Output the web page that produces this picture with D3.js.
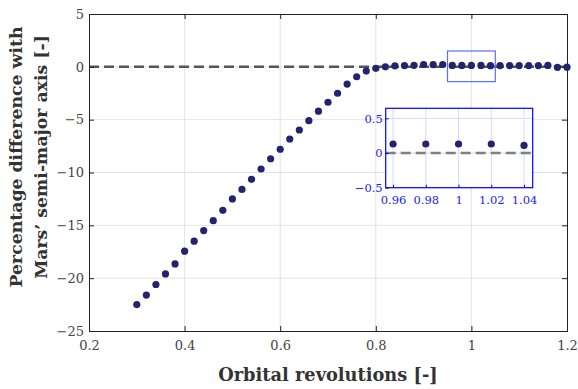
<!DOCTYPE html>
<html><head><meta charset="utf-8">
<script src="https://d3js.org/d3.v7.min.js"></script>
<style>body{margin:0;background:#fff}svg{display:block}</style>
</head><body>
<script>
const revolutions = [0.30,0.32,0.34,0.36,0.38,0.40,0.42,0.44,0.46,0.48,0.50,0.52,0.54,0.56,0.58,0.60,0.62,0.64,0.66,0.68,0.70,0.72,0.74,0.76,0.78,0.80,0.82,0.84,0.86,0.88,0.90,0.92,0.94,0.96,0.98,1.00,1.02,1.04,1.06,1.08,1.10,1.12,1.14,1.16,1.18,1.20];
const pctDiff = [-22.5,-21.6,-20.6,-19.6,-18.65,-17.45,-16.5,-15.5,-14.56,-13.58,-12.5,-11.6,-10.65,-9.67,-8.7,-7.8,-6.83,-5.98,-5.1,-4.2,-3.35,-2.5,-1.63,-0.94,-0.4,-0.14,0.0,0.1,0.12,0.14,0.22,0.2,0.22,0.13,0.13,0.13,0.13,0.11,0.12,0.12,0.12,0.12,0.12,0.13,-0.05,-0.03];
const xTicks = [0.2,0.4,0.6,0.8,1.0,1.2];
const yTicks = [5,0,-5,-10,-15,-20,-25];
const insetXTicks = [0.96,0.98,1.00,1.02,1.04];
const insetYTicks = [0.5,0,-0.5];
const zoomBox = {x0:0.95, x1:1.05, y0:-1.4, y1:1.5};

const W=578,H=389;
const svg=d3.select("body").append("svg").attr("width",W).attr("height",H);
const x=d3.scaleLinear().domain([0.2,1.2]).range([89,567]);
const y=d3.scaleLinear().domain([-25,5]).range([331,14]);
const font="DejaVu Serif";
const dotColor="#23236e";

// grid
const g=svg.append("g");
g.selectAll(".gx").data(xTicks.slice(1,-1)).join("line").attr("x1",d=>x(d)).attr("x2",d=>x(d)).attr("y1",14).attr("y2",331).attr("stroke","#e3e3e3").attr("stroke-width",1);
g.selectAll(".gy").data(yTicks.slice(1,-1)).join("line").attr("y1",d=>y(d)).attr("y2",d=>y(d)).attr("x1",89).attr("x2",567).attr("stroke","#e3e3e3").attr("stroke-width",1);

// zero line
svg.append("line").attr("x1",89).attr("x2",567).attr("y1",y(0)).attr("y2",y(0)).attr("stroke","#555").attr("stroke-width",2.5).attr("stroke-dasharray","10,5");

// axes
const xb=d3.axisBottom(x).tickValues(xTicks).tickSize(-5).tickFormat(d3.format("~g"));
const xt=d3.axisTop(x).tickValues(xTicks).tickSize(-5).tickFormat("");
const yl=d3.axisLeft(y).tickValues(yTicks).tickSize(-5).tickFormat(d3.format("~g"));
const yr=d3.axisRight(y).tickValues(yTicks).tickSize(-5).tickFormat("");
function style(sel,col){sel.select(".domain").attr("stroke",col).attr("stroke-width",1);sel.selectAll(".tick line").attr("stroke",col);sel.selectAll("text").attr("fill","#444").attr("font-family",font).attr("font-size",13);}
style(svg.append("g").attr("transform","translate(0,331)").call(xb).call(s=>s.selectAll("text").attr("dy","1.25em")),"#222");
style(svg.append("g").attr("transform","translate(0,14)").call(xt),"#222");
style(svg.append("g").attr("transform","translate(89,0)").call(yl).call(s=>s.selectAll("text").attr("x",-5)),"#222");
style(svg.append("g").attr("transform","translate(567,0)").call(yr),"#222");

// points
svg.append("g").selectAll("circle").data(revolutions).join("circle").attr("cx",d=>x(d)).attr("cy",(d,i)=>y(pctDiff[i])).attr("r",3.6).attr("fill",dotColor);

// zoom rectangle
svg.append("rect").attr("x",x(zoomBox.x0)).attr("y",y(zoomBox.y1)).attr("width",x(zoomBox.x1)-x(zoomBox.x0)).attr("height",y(zoomBox.y0)-y(zoomBox.y1)).attr("fill","none").attr("stroke","#5a6cff").attr("stroke-width",1.2);

// inset
const ix=d3.scaleLinear().domain([0.9555,1.0453]).range([385.7,532.7]);
const iy=d3.scaleLinear().domain([-0.5,0.645]).range([187.7,108.3]);
const ig=svg.append("g");
ig.append("rect").attr("x",385.7).attr("y",108.3).attr("width",147).attr("height",79.4).attr("fill","#fff");
ig.selectAll(".igx").data(insetXTicks).join("line").attr("x1",d=>ix(d)).attr("x2",d=>ix(d)).attr("y1",108.3).attr("y2",187.7).attr("stroke","#d6d9ff");
ig.selectAll(".igy").data(insetYTicks).join("line").attr("y1",d=>iy(d)).attr("y2",d=>iy(d)).attr("x1",385.7).attr("x2",532.7).attr("stroke","#d6d9ff");
ig.append("line").attr("x1",385.7).attr("x2",532.7).attr("y1",iy(0)).attr("y2",iy(0)).attr("stroke","#808080").attr("stroke-width",2.5).attr("stroke-dasharray","10,5");
const insetIdx=revolutions.map((d,i)=>i).filter(i=>revolutions[i]>0.955&&revolutions[i]<1.045);
ig.selectAll("circle").data(insetIdx).join("circle").attr("cx",i=>ix(revolutions[i])).attr("cy",i=>iy(pctDiff[i])).attr("r",3.6).attr("fill",dotColor);
function istyle(sel){sel.select(".domain").attr("stroke","none");sel.selectAll(".tick line").attr("stroke","#0000ff");sel.selectAll("text").attr("fill","#2020ff").attr("font-family",font).attr("font-size",11.5);}
istyle(ig.append("g").attr("transform","translate(0,187.7)").call(d3.axisBottom(ix).tickValues(insetXTicks).tickSize(-3).tickFormat(d3.format("~g"))).call(s=>s.selectAll("text").attr("dy","1.2em")));
istyle(ig.append("g").attr("transform","translate(385.7,0)").call(d3.axisLeft(iy).tickValues(insetYTicks).tickSize(-3).tickFormat(d3.format("~g"))).call(s=>s.selectAll("text").attr("x",-3)));
ig.append("rect").attr("x",385.7).attr("y",108.3).attr("width",147).attr("height",79.4).attr("fill","none").attr("stroke","#0000ff").attr("stroke-width",1.2);

// labels
svg.append("text").attr("x",328).attr("y",381).attr("text-anchor","middle").attr("font-family",font).attr("font-weight","bold").attr("font-size",17.8).attr("fill","#333").text("Orbital revolutions [-]");
const yt=svg.append("text").attr("transform","translate(0,157) rotate(-90)").attr("text-anchor","middle").attr("font-family",font).attr("font-weight","bold").attr("font-size",17.3).attr("fill","#333");
yt.append("tspan").attr("x",0).attr("y",22).text("Percentage difference with");
yt.append("tspan").attr("x",0).attr("y",47).text("Mars’ semi-major axis [-]");
</script>
</body></html>
